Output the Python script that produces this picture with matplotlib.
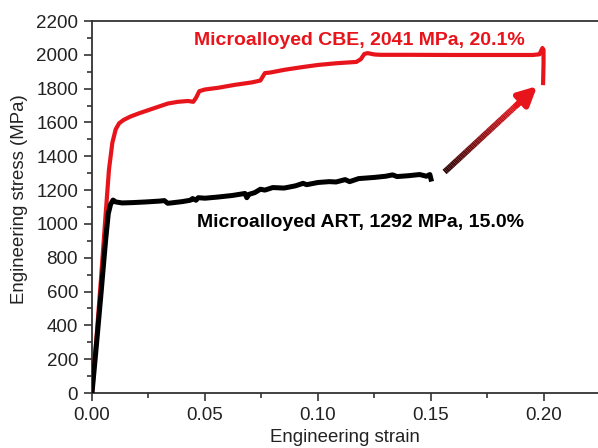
import matplotlib.pyplot as plt
from matplotlib.collections import LineCollection
from matplotlib.colors import LinearSegmentedColormap
import numpy as np

plt.rcParams['font.family'] = ['Liberation Sans', 'DejaVu Sans']

# Microalloyed CBE (red curve)
cbe_strain = [0, 0.002, 0.004, 0.006, 0.0075, 0.009, 0.0105, 0.012, 0.014, 0.017,
              0.021, 0.0265, 0.0336, 0.038, 0.0425, 0.0448, 0.046, 0.0475, 0.050,
              0.0558, 0.063, 0.0708, 0.0745, 0.0755, 0.0765, 0.0788, 0.0854, 0.0934,
              0.100, 0.108, 0.117, 0.119, 0.1205, 0.122, 0.125, 0.1275, 0.14, 0.16,
              0.18, 0.195, 0.198, 0.1993, 0.1998, 0.1998, 0.1996]
cbe_stress = [0, 330, 680, 1050, 1320, 1480, 1560, 1595, 1615, 1635,
              1655, 1680, 1712, 1722, 1727, 1722, 1745, 1785, 1795,
              1805, 1822, 1837, 1848, 1870, 1892, 1895, 1912, 1928,
              1940, 1950, 1958, 1975, 2005, 2010, 2002, 2000, 2000, 1999,
              1999, 1999, 2003, 2040, 2030, 1950, 1833]

# Microalloyed ART (black curve)
art_strain = [0, 0.002, 0.004, 0.006, 0.0072, 0.0082, 0.0093, 0.0105, 0.0133, 0.018,
              0.024, 0.030, 0.032, 0.0335, 0.035, 0.040, 0.0435, 0.0445, 0.046, 0.047,
              0.050, 0.0558, 0.062, 0.0677, 0.0685, 0.0695, 0.072, 0.0745, 0.0765,
              0.080, 0.085, 0.090, 0.0934, 0.095, 0.100, 0.105, 0.108, 0.112, 0.114,
              0.118, 0.125, 0.130, 0.133, 0.135, 0.140, 0.145, 0.148, 0.1495, 0.150]
art_stress = [0, 290, 590, 900, 1060, 1115, 1141, 1130, 1124, 1126,
              1130, 1135, 1138, 1122, 1124, 1132, 1140, 1150, 1140, 1155,
              1152, 1159, 1168, 1180, 1155, 1175, 1185, 1205, 1200,
              1215, 1212, 1225, 1240, 1232, 1245, 1250, 1248, 1262, 1250,
              1268, 1275, 1282, 1290, 1280, 1285, 1292, 1282, 1292, 1265]

red = '#e8141b'

fig = plt.figure(figsize=(5.98, 4.48), dpi=100)
ax = fig.add_axes([92 / 598, 55 / 448, 506 / 598, 372 / 448])

ax.plot(cbe_strain, cbe_stress, color=red, lw=3.0, solid_joinstyle='round', zorder=3)
ax.plot(art_strain, art_stress, color='black', lw=3.6, solid_joinstyle='round', zorder=4)

# gradient arrow from ART end to CBE end
x0, y0 = 0.156, 1307
x1, y1 = 0.197, 1815
t = np.linspace(0, 0.8, 60)
xs = x0 + (x1 - x0) * t
ys = y0 + (y1 - y0) * t
pts = np.array([xs, ys]).T.reshape(-1, 1, 2)
segs = np.concatenate([pts[:-1], pts[1:]], axis=1)
cmap = LinearSegmentedColormap.from_list('grad', ['#2a0000', red])
lc = LineCollection(segs, cmap=cmap, linewidths=4.3, capstyle='butt')
lc.set_array(np.linspace(0, 1, len(segs)))
ax.add_collection(lc)
ax.annotate('', xy=(x1, y1), xytext=(xs[-3], ys[-3]),
            arrowprops=dict(arrowstyle='-|>,head_length=1.1,head_width=0.55',
                            color=red, lw=4.3, shrinkA=0, shrinkB=0))

ax.text(0.0451, 2058, 'Microalloyed CBE, 2041 MPa, 20.1%', color=red,
        fontsize=14, fontweight='bold', ha='left', va='baseline')
ax.text(0.0465, 982, 'Microalloyed ART, 1292 MPa, 15.0%', color='black',
        fontsize=14, fontweight='bold', ha='left', va='baseline')

ax.set_xlim(0, 0.2239)
ax.set_ylim(0, 2200)
ax.set_xticks([0, 0.05, 0.10, 0.15, 0.20])
ax.set_xticklabels(['0.00', '0.05', '0.10', '0.15', '0.20'])
ax.set_xticks(np.arange(0.025, 0.22, 0.05), minor=True)
ax.set_yticks(np.arange(0, 2201, 200))
ax.set_yticks(np.arange(100, 2200, 200), minor=True)

spine_c = '#333333'
ax.spines['right'].set_visible(False)
for s in ['left', 'bottom', 'top']:
    ax.spines[s].set_color(spine_c)
    ax.spines[s].set_linewidth(1.3)
ax.tick_params(which='major', direction='out', length=6, width=1.2, color=spine_c,
               labelsize=13.5, pad=4, labelcolor='#222222')
ax.tick_params(which='minor', direction='out', length=3.5, width=1.2, color=spine_c)

ax.set_xlabel('Engineering strain', fontsize=13.4, color='#222222', labelpad=4)
ax.set_ylabel('Engineering stress (MPa)', fontsize=13.4, color='#222222')
ax.yaxis.set_label_coords(-0.127, 0.52)

fig.savefig('out.png', dpi=100)
